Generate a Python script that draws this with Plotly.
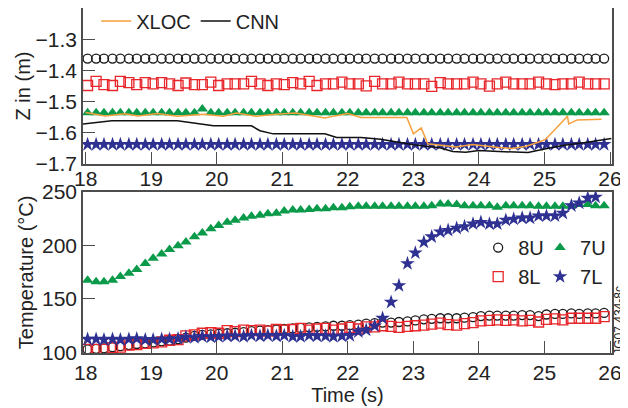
import plotly.graph_objects as go
from plotly.subplots import make_subplots

# ---- data ----
time_s = [
    18.03, 18.16, 18.28, 18.41, 18.53, 18.66, 18.78, 18.91,
    19.03, 19.16, 19.28, 19.41, 19.53, 19.66, 19.78, 19.91,
    20.03, 20.16, 20.28, 20.41, 20.53, 20.66, 20.78, 20.91,
    21.03, 21.16, 21.28, 21.41, 21.53, 21.66, 21.78, 21.91,
    22.03, 22.16, 22.28, 22.41, 22.53, 22.66, 22.78, 22.91,
    23.03, 23.16, 23.28, 23.41, 23.53, 23.66, 23.78, 23.91,
    24.03, 24.16, 24.28, 24.41, 24.53, 24.66, 24.78, 24.91,
    25.03, 25.16, 25.28, 25.41, 25.53, 25.66, 25.78, 25.91,
]

# Z positions (m), top panel
z_8U = [
    -1.36, -1.36, -1.36, -1.36, -1.36, -1.36, -1.36, -1.36,
    -1.36, -1.36, -1.36, -1.36, -1.36, -1.36, -1.36, -1.36,
    -1.36, -1.36, -1.36, -1.36, -1.36, -1.36, -1.36, -1.36,
    -1.36, -1.36, -1.36, -1.36, -1.36, -1.36, -1.36, -1.36,
    -1.36, -1.36, -1.36, -1.36, -1.36, -1.36, -1.36, -1.36,
    -1.36, -1.36, -1.36, -1.36, -1.36, -1.36, -1.36, -1.36,
    -1.36, -1.36, -1.36, -1.36, -1.36, -1.36, -1.36, -1.36,
    -1.36, -1.36, -1.36, -1.36, -1.36, -1.36, -1.36, -1.36,
]
z_8L = [
    -1.447, -1.434, -1.444, -1.447, -1.434, -1.438, -1.444, -1.438,
    -1.442, -1.438, -1.442, -1.447, -1.439, -1.444, -1.444, -1.436,
    -1.447, -1.442, -1.442, -1.442, -1.434, -1.442, -1.447, -1.442,
    -1.444, -1.438, -1.442, -1.434, -1.447, -1.442, -1.442, -1.436,
    -1.442, -1.442, -1.448, -1.434, -1.442, -1.442, -1.436, -1.442,
    -1.442, -1.442, -1.450, -1.438, -1.442, -1.442, -1.442, -1.436,
    -1.442, -1.449, -1.442, -1.436, -1.442, -1.442, -1.442, -1.436,
    -1.442, -1.444, -1.442, -1.442, -1.436, -1.442, -1.442, -1.442,
]
z_7U = [
    -1.535, -1.535, -1.535, -1.535, -1.535, -1.535, -1.535, -1.535,
    -1.535, -1.535, -1.535, -1.535, -1.535, -1.535, -1.523, -1.535,
    -1.535, -1.535, -1.535, -1.535, -1.535, -1.535, -1.535, -1.535,
    -1.535, -1.535, -1.535, -1.535, -1.535, -1.535, -1.535, -1.535,
    -1.535, -1.535, -1.535, -1.535, -1.535, -1.535, -1.535, -1.535,
    -1.535, -1.535, -1.535, -1.535, -1.535, -1.535, -1.535, -1.535,
    -1.535, -1.535, -1.535, -1.535, -1.535, -1.535, -1.535, -1.535,
    -1.535, -1.535, -1.535, -1.535, -1.535, -1.535, -1.535, -1.535,
]
z_7L = [
    -1.637, -1.637, -1.637, -1.637, -1.637, -1.637, -1.637, -1.637,
    -1.637, -1.637, -1.637, -1.637, -1.637, -1.637, -1.637, -1.637,
    -1.637, -1.637, -1.637, -1.637, -1.637, -1.637, -1.637, -1.637,
    -1.637, -1.637, -1.637, -1.637, -1.637, -1.637, -1.637, -1.637,
    -1.637, -1.637, -1.637, -1.637, -1.637, -1.637, -1.637, -1.637,
    -1.637, -1.637, -1.637, -1.637, -1.637, -1.637, -1.637, -1.637,
    -1.637, -1.637, -1.637, -1.637, -1.637, -1.637, -1.637, -1.637,
    -1.637, -1.637, -1.637, -1.637, -1.637, -1.637, -1.637, -1.637,
]

xloc_t = [18.0, 18.3, 18.6, 18.8, 19.1, 19.4, 19.8, 20.1, 20.3, 20.6, 20.9,
          21.2, 21.5, 21.65, 21.8, 22.0, 22.2, 22.9, 23.0, 23.12, 23.22,
          23.45, 23.65, 23.9, 24.1, 24.3, 24.5, 24.72, 24.97, 25.02, 25.35,
          25.37, 25.5, 25.87]
xloc_z = [-1.534, -1.545, -1.538, -1.545, -1.537, -1.546, -1.540, -1.546,
          -1.536, -1.546, -1.540, -1.536, -1.546, -1.552, -1.545, -1.537,
          -1.550, -1.550, -1.603, -1.584, -1.635, -1.640, -1.645, -1.637,
          -1.643, -1.647, -1.650, -1.643, -1.625, -1.620, -1.546, -1.571,
          -1.558, -1.556]

cnn_t = [17.96, 18.4, 19.4, 19.95, 20.53, 20.66, 20.86, 21.65, 21.83, 22.2,
         22.5, 23.0, 23.4, 23.6, 23.8, 24.0, 24.3, 24.75, 25.0, 25.3, 25.6,
         25.8, 26.02]
cnn_z = [-1.571, -1.561, -1.561, -1.577, -1.577, -1.593, -1.603, -1.603,
         -1.615, -1.615, -1.620, -1.638, -1.648, -1.660, -1.662, -1.657,
         -1.660, -1.663, -1.652, -1.640, -1.632, -1.625, -1.618]

# Temperatures (deg C), bottom panel
temp_8U = [
    103, 103.5, 104, 105, 106, 107, 108, 108.5,
    109.5, 110.5, 111, 112.5, 114, 115.5, 116.5, 117,
    117.5, 118, 118.5, 119, 120, 120.5, 121, 121.5,
    122, 122.5, 123, 123.5, 124, 124.5, 125, 125,
    125.5, 126, 127, 127.5, 128, 128, 128.5, 129,
    130, 131, 131.5, 132, 132, 132, 132.5, 133,
    134, 134.5, 134.5, 134.5, 134.5, 135, 135, 134,
    135.5, 136, 136, 136.5, 136, 136.5, 136.5, 137,
]
temp_8L = [
    103, 103, 103, 104.5, 105, 107, 107.5, 108.5,
    109, 110, 111.5, 112, 115.5, 116.5, 118, 118.5,
    118, 120.5, 119.5, 121, 120.5, 121, 120, 121.5,
    121, 121.5, 122.5, 121, 122, 122.5, 121, 122,
    123.5, 122, 124, 124, 125, 124.5, 123.5, 124.5,
    125, 125.5, 126.5, 127.5, 126, 125.5, 127, 128,
    129.5, 130, 130.5, 130, 130.5, 129.5, 130, 128.5,
    131, 131.5, 130.5, 132, 132, 132, 132, 133.5,
]
temp_7U = [
    167.5, 166, 166, 167.5, 171, 174, 177.5, 183,
    188, 192, 196, 199.5, 203, 208, 211.5, 215.5,
    218.5, 221.5, 223.5, 225.5, 227, 228, 229.5, 230,
    232, 233, 233, 233.5, 234, 234, 235, 235,
    236, 236.5, 236.5, 236.5, 236.5, 236.5, 236.5, 236.5,
    236.5, 236.5, 237, 238.5, 238.5, 238, 237, 237,
    237, 237, 235.5, 237, 237, 237, 237, 236.5,
    236.5, 236.5, 236.5, 237, 238, 238, 237, 237,
]
temp_7L = [
    112.5, 112.5, 112, 112.5, 112, 112.5, 113, 112,
    112, 112.5, 112.5, 113, 114.5, 114, 115, 114.5,
    115, 115.5, 115.5, 115, 116, 115.5, 116, 115.5,
    116, 115, 115, 116, 115.5, 115.5, 115, 115.5,
    116, 119.5, 121, 125, 132, 147, 162.5, 183,
    193, 203, 208, 212.5, 214, 216, 217.5, 220,
    221.5, 220, 220, 223.5, 224.5, 225.5, 225.5, 227.5,
    227.5, 227.5, 230, 237, 239.5, 244, 245,
]

z_ticks = [-1.3, -1.4, -1.5, -1.6, -1.7]
temp_ticks = [100, 150, 200, 250]
time_ticks = [18, 19, 20, 21, 22, 23, 24, 25, 26]

# ---- styles ----
FONT = "Liberation Sans, Arial, sans-serif"
C_8U, C_8L, C_7U, C_7L = "#1a1a1a", "#e8262b", "#0b9a4a", "#2e3192"
C_XLOC, C_CNN = "#f5a03c", "#111111"
AX = "#4d4d4d"

fig = make_subplots(rows=2, cols=1)

series = [
    ("8U", z_8U, temp_8U, dict(symbol="circle-open", size=9, color=C_8U, line=dict(width=1.3)), "legend2"),
    ("8L", z_8L, temp_8L, dict(symbol="square-open", size=10, color=C_8L, line=dict(width=1.3)), "legend2"),
    ("7U", z_7U, temp_7U, dict(symbol="triangle-up", size=10, color=C_7U), "legend3"),
    ("7L", z_7L, temp_7L, dict(symbol="star", size=11, color=C_7L), "legend3"),
]

for name, zv, tv, mk, lg in series:
    fig.add_trace(go.Scatter(x=time_s[:len(zv)], y=zv, mode="markers", marker=mk,
                             name=name, showlegend=False), row=1, col=1)

fig.add_trace(go.Scatter(x=xloc_t, y=xloc_z, mode="lines", name="XLOC",
                         line=dict(color=C_XLOC, width=1.5), legend="legend"), row=1, col=1)
fig.add_trace(go.Scatter(x=cnn_t, y=cnn_z, mode="lines", name="CNN",
                         line=dict(color=C_CNN, width=1.5), legend="legend"), row=1, col=1)

for name, zv, tv, mk, lg in series:
    fig.add_trace(go.Scatter(x=time_s[:len(tv)], y=tv, mode="markers", marker=mk,
                             name=name, legend=lg), row=2, col=1)

title_font = dict(family=FONT, size=20, color="#222")
axis_common = dict(showline=True, linecolor=AX, linewidth=1.5, mirror=True,
                   ticks="inside", ticklen=12, tickcolor=AX, tickwidth=1.3,
                   showgrid=False, zeroline=False, automargin=False,
                   tickfont=dict(family=FONT, size=21, color="#222"))

fig.update_xaxes(range=[17.96, 26.03], tickvals=time_ticks, **axis_common)
fig.update_xaxes(ticklabelstandoff=-5, row=1, col=1)
fig.update_xaxes(title=dict(text="Time (s)", font=title_font, standoff=4), row=2, col=1)
fig.update_yaxes(range=[-1.7, -1.197], tickvals=z_ticks, tickformat=".1f",
                 domain=[0.548, 1.0],
                 title=dict(text="Z in (m)", font=title_font, standoff=0),
                 row=1, col=1, **axis_common)
fig.update_yaxes(range=[99.6, 250], tickvals=temp_ticks, domain=[0.0, 0.4675],
                 title=dict(text="Temperature (°C)", font=title_font, standoff=3),
                 row=2, col=1, **axis_common)

legend_font = dict(family=FONT, size=20, color="#222")
# page body has an 8px margin, so the figure is 8px smaller than the window
fig.update_layout(
    template="none",
    width=620, height=400,
    margin=dict(l=75, r=16, t=0, b=55, autoexpand=False),
    paper_bgcolor="white", plot_bgcolor="white",
    font=dict(family=FONT, size=20, color="#222"),
    legend=dict(orientation="h", x=0.025, y=0.962, xanchor="left", yanchor="middle",
                bgcolor="rgba(0,0,0,0)", font=legend_font, itemwidth=30),
    legend2=dict(orientation="v", x=0.747, y=0.362, xanchor="left", yanchor="top",
                 bgcolor="rgba(0,0,0,0)", font=legend_font, itemwidth=30, tracegroupgap=0),
    legend3=dict(orientation="v", x=0.864, y=0.362, xanchor="left", yanchor="top",
                 bgcolor="rgba(0,0,0,0)", font=legend_font, itemwidth=30, tracegroupgap=0),
    annotations=[dict(text="JG07.434-8c", xref="paper", yref="paper", x=1.013, y=0.096,
                      textangle=-90, showarrow=False, xanchor="center", yanchor="middle",
                      font=dict(family=FONT, size=12, color="#222"))],
)

fig.write_html("out.html")
